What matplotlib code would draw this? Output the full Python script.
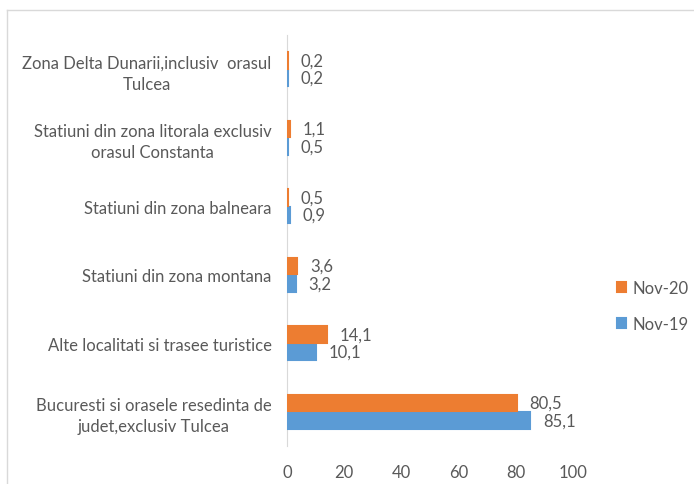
import matplotlib.pyplot as plt
from matplotlib.lines import Line2D

# Data (bottom to top)
categories = [
    "Bucuresti si orasele resedinta de\njudet,exclusiv Tulcea",
    "Alte localitati si trasee turistice",
    "Statiuni din zona montana",
    "Statiuni din zona balneara",
    "Statiuni din zona litorala exclusiv\norasul Constanta",
    "Zona Delta Dunarii,inclusiv  orasul\nTulcea",
]
nov19 = [85.1, 10.1, 3.2, 0.9, 0.5, 0.2]
nov20 = [80.5, 14.1, 3.6, 0.5, 1.1, 0.2]

blue = "#5B9BD5"
orange = "#ED7D31"
txt = "#595959"

plt.rcParams['font.family'] = ['Lato', 'DejaVu Sans']

fig = plt.figure(figsize=(6.94, 4.85), dpi=100)
ax = fig.add_axes([287 / 694, 1 - 447 / 485, 286 / 694, 411 / 485])

h = 0.24
y = list(range(len(categories)))
b19 = ax.barh([i - 0.255 / 2 for i in y], nov19, height=h, color=blue,
              edgecolor=blue, linewidth=1.5, label="Nov-19", zorder=3)
b20 = ax.barh([i + 0.255 / 2 for i in y], nov20, height=h, color=orange,
              edgecolor=orange, linewidth=1.5, label="Nov-20", zorder=3)

for bars, vals in ((b19, nov19), (b20, nov20)):
    for bar, v in zip(bars, vals):
        ax.annotate(f"{v:.1f}".replace(".", ","),
                    (bar.get_width(), bar.get_y() + bar.get_height() / 2),
                    xytext=(9, 0), textcoords="offset points",
                    va="center", ha="left", fontsize=12, color=txt)

ax.set_xlim(0, 100)
ax.set_ylim(-0.5, len(categories) - 0.5)
ax.set_xticks([0, 20, 40, 60, 80, 100])
ax.set_yticks(y)
ax.set_yticklabels(categories, multialignment="center", linespacing=1.4)
ax.tick_params(axis="x", length=0, pad=13, labelsize=12, colors=txt)
ax.tick_params(axis="y", length=0, pad=11, labelsize=12, colors=txt)
for s in ("top", "right", "bottom"):
    ax.spines[s].set_visible(False)
ax.spines["left"].set_color("#D9D9D9")

handles, labels = ax.get_legend_handles_labels()
leg = fig.legend(handles[::-1], labels[::-1], loc="center left",
                 bbox_to_anchor=(617 / 694, 1 - 307 / 485), frameon=False,
                 fontsize=12, handlelength=0.55, handleheight=0.55,
                 labelspacing=1.2, handletextpad=0.35, borderpad=0,
                 borderaxespad=0)
for t in leg.get_texts():
    t.set_color(txt)

# outer chart frame
fig.add_artist(Line2D([7 / 694, 7 / 694], [0, 1 - 11 / 485], color="#D9D9D9", lw=1, transform=fig.transFigure))
fig.add_artist(Line2D([7 / 694, 1], [1 - 11 / 485, 1 - 11 / 485], color="#D9D9D9", lw=1, transform=fig.transFigure))

fig.savefig("out.png", dpi=100)
